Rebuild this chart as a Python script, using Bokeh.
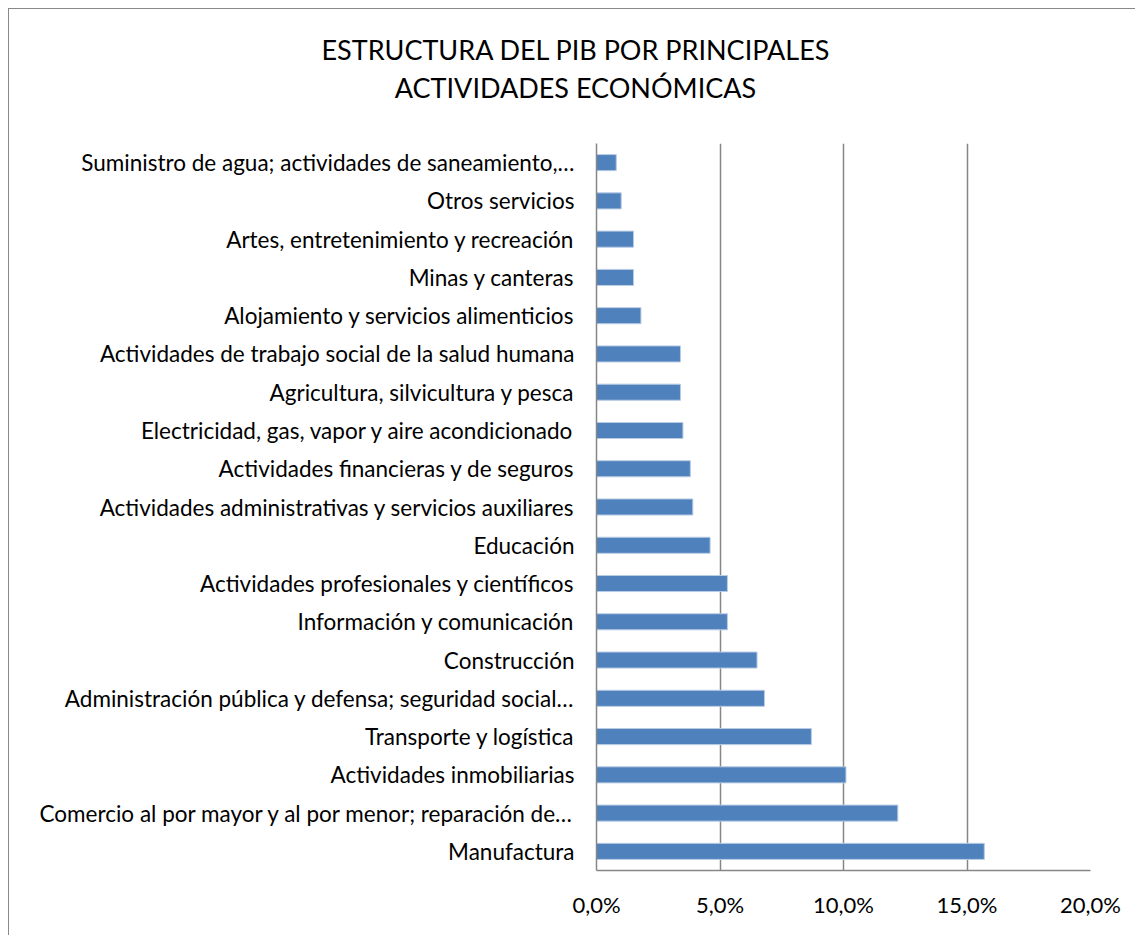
from bokeh.plotting import figure
from bokeh.models import FactorRange, Range1d, FixedTicker, ColumnDataSource, Div
from bokeh.layouts import column
from bokeh.embed import file_html
from bokeh.resources import INLINE

title_lines = ["ESTRUCTURA DEL PIB POR PRINCIPALES", "ACTIVIDADES ECONÓMICAS"]

categories = [
    "Suministro de agua; actividades de saneamiento,…",
    "Otros servicios",
    "Artes, entretenimiento y recreación",
    "Minas y canteras",
    "Alojamiento y servicios alimenticios",
    "Actividades de trabajo social de la salud humana",
    "Agricultura, silvicultura y pesca",
    "Electricidad, gas, vapor y aire acondicionado",
    "Actividades financieras y de seguros",
    "Actividades administrativas y servicios auxiliares",
    "Educación",
    "Actividades profesionales y científicos",
    "Información y comunicación",
    "Construcción",
    "Administración pública y defensa; seguridad social…",
    "Transporte y logística",
    "Actividades inmobiliarias",
    "Comercio al por mayor y al por menor; reparación de…",
    "Manufactura",
]
values = [0.8, 1.0, 1.5, 1.5, 1.8, 3.4, 3.4, 3.5, 3.8, 3.9,
          4.6, 5.3, 5.3, 6.5, 6.8, 8.7, 10.1, 12.2, 15.7]

tick_values = [0, 5, 10, 15, 20]
tick_labels = ["0,0%", "5,0%", "10,0%", "15,0%", "20,0%"]

FONT = "Lato"
GRID = "#868686"

src = ColumnDataSource(dict(cat=categories, val=values))

title = Div(
    text="<br>".join(title_lines),
    width=1119, height=124,
    styles={"font-family": FONT, "font-size": "27px", "line-height": "38px",
            "color": "#000000", "text-align": "center", "width": "1119px",
            "padding-top": "17px", "padding-left": "4px", "box-sizing": "border-box"},
)

p = figure(
    width=1119, height=792,
    y_range=FactorRange(factors=list(reversed(categories)), range_padding=0),
    x_range=Range1d(tick_values[0], tick_values[-1]),
    output_backend="svg", toolbar_location=None,
    min_border_left=587, min_border_right=38,
    min_border_top=0, min_border_bottom=65,
    title=None,
)
p.outline_line_color = None
p.background_fill_color = "white"
p.border_fill_color = "white"

p.hbar(y="cat", right="val", left=0, height=0.42, source=src,
       fill_color="#4F81BD", line_color="#B9CCE4", line_width=1)

p.xaxis.ticker = FixedTicker(ticks=tick_values)
p.xaxis.major_label_overrides = {v: l for v, l in zip(tick_values, tick_labels)}
p.xaxis.major_tick_line_color = None
p.xaxis.minor_tick_line_color = None
p.xaxis.axis_line_color = GRID
p.xaxis.axis_line_width = 1.5
p.xaxis.major_label_text_font = FONT
p.xaxis.major_label_text_font_size = "22px"
p.xaxis.major_label_text_color = "#000000"
p.xaxis.major_label_standoff = 14

p.yaxis.major_tick_line_color = None
p.yaxis.minor_tick_line_color = None
p.yaxis.axis_line_color = GRID
p.yaxis.axis_line_width = 1.5
p.yaxis.major_label_text_font = FONT
p.yaxis.major_label_text_font_size = "22.5px"
p.yaxis.major_label_text_color = "#000000"
p.yaxis.major_label_standoff = 16

p.xgrid.grid_line_color = GRID
p.xgrid.grid_line_width = 1.5
p.ygrid.grid_line_color = None

layout = column(title, p, spacing=0,
                styles={"border-left": "1.5px solid #888888",
                        "border-top": "1.5px solid #888888",
                        "margin-left": "8px", "margin-top": "8px",
                        "background": "white"})

open("out.html", "w").write(file_html(layout, INLINE))
